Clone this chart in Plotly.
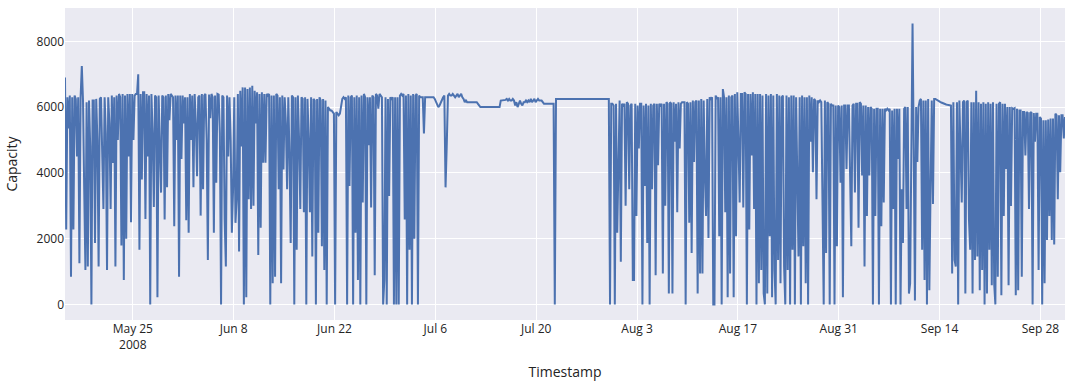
import pandas as pd
import plotly.graph_objects as go

# Readings every 4 hours, starting 2008-05-15 14:00 (one row of six readings per day)
start_time = "2008-05-15 14:00"
step = "4h"

may_vals = [
    6900, 2280, 6300, 5350, 6350, 840,
    6300, 2280, 6350, 6250, 4500, 6300,
    1250, 6300, 7250, 6200, 3500, 1050,
    6150, 1150, 6200, 4800, 0, 6200,
    6200, 1870, 6250, 5000, 1150, 6250,
    6300, 4000, 2900, 6300, 5200, 1050,
    6300, 5500, 2900, 6350, 4300, 6300,
    1150, 6350, 5000, 6400, 6300, 1790,
    6400, 740, 6350, 2000, 6400, 4500,
    6400, 2500, 6400, 5000, 6350, 6400,
    6400, 7000, 1660, 6400, 3800, 6450,
    6450, 2600, 6400, 4500, 6350, 0,
    6400, 5200, 2960, 6350, 6300, 220,
    6350, 4800, 3400, 6350, 6300, 2580,
    6350, 3560, 6400, 5600, 6400, 6350,
    6300, 2380, 6350, 5000, 6350, 840,
    6350, 4420, 6350, 5500, 6300, 2560,
]
jun_vals = [
    6300, 2180, 6400, 5000, 6350, 3560,
    6400, 5500, 3900, 6300, 6350, 2700,
    6400, 3500, 6350, 6400, 5000, 1350,
    6380, 5660, 6400, 6300, 2180, 6350,
    3700, 6400, 6380, 5200, 0, 6350,
    6300, 2580, 1150, 6350, 4500, 6300,
    5000, 2180, 3500, 6300, 2480, 3200,
    6400, 1610, 6500, 4800, 6600, 0,
    6600, 220, 6550, 3200, 6600, 2900,
    6650, 3000, 6500, 5500, 6450, 1500,
    6400, 2330, 6450, 4310, 6400, 4310,
    6400, 6350, 6400, 0, 6350, 640,
    6350, 840, 6400, 6350, 3500, 6300,
    640, 6350, 4100, 6300, 5500, 3500,
    6300, 4530, 1870, 6350, 6300, 0,
    6300, 1660, 6350, 5000, 2900, 6300,
    6250, 2800, 6300, 0, 6250, 5000,
    2800, 6300, 1460, 6250, 6200, 0,
    6250, 2180, 6300, 6200, 1770, 6250,
    1050, 6200, 0, 6000, 5950, 5900,
    5900, 5850, 5800, 0, 5850, 5800,
    5750, 5800, 6100, 6250, 6300, 6250,
    6300, 0, 6350, 3600, 6300, 6350,
    0, 6300, 2180, 6350, 740, 6300,
    0, 6350, 3100, 6400, 6300, 0,
    6300, 4840, 6300, 2950, 6350, 6300,
    890, 6400, 6350, 5950, 6400, 6350,
    6300, 0, 740, 6300, 0, 6250,
    3300, 6300, 6250, 6300, 0, 6300,
    0, 6300, 0, 6350, 6400, 6350,
]
jul_vals = [
    6400, 2580, 6350, 0, 6400, 1660,
    6350, 0, 6400, 2000, 6350, 6400,
    0, 6350, 6300, 6300, 6300, 5200,
    6300, 6300, 6300, 6300, 6300, 6300,
    6300, 6300, 6250, 6150, 6050, 6000,
    6050, 6150, 6250, 6300, 6350, 3560,
    4840, 6350, 6400, 6350, 6350, 6400,
    6350, 6300, 6350, 6400, 6300, 6350,
    6400, 6300, 6250, 6150, 6200, 6150,
    6150, 6150, 6150, 6150, 6150, 6150,
    6150, 6150, 6100, 6050, 6000, 6000,
    6000, 6000, 6000, 6000, 6000, 6000,
    6000, 6000, 6000, 6000, 6000, 6000,
    6000, 6000, 6000, 6200, 6200, 6200,
    6200, 6220, 6250, 6200, 6250, 6200,
    6200, 6250, 6200, 6050, 6150, 6000,
    6100, 6200, 6100, 6050, 6150, 6150,
    6200, 6150, 6200, 6150, 6250, 6150,
    6200, 6250, 6150, 6200, 6250, 6200,
    6200, 6200, 6150, 6100, 6100, 6100,
    6100, 6100, 6100, 6100, 6100, 6100,
    0, 6250, 6250, 6250, 6250, 6250,
    6250, 6250, 6250, 6250, 6250, 6250,
    6250, 6250, 6250, 6250, 6250, 6250,
    6250, 6250, 6250, 6250, 6250, 6250,
    6250, 6250, 6250, 6250, 6250, 6250,
    6250, 6250, 6250, 6250, 6250, 6250,
    6250, 6250, 6250, 6250, 6250, 6250,
    6250, 6250, 6250, 6250, 0, 6100,
    6100, 6050, 0, 6100, 2180, 4700,
    6200, 1300, 6100, 6050, 6100, 3000,
]
aug_vals = [
    6150, 6100, 3500, 6050, 6100, 740,
    740, 6100, 2690, 6050, 4740, 6100,
    6100, 0, 6050, 3600, 6100, 1870,
    6050, 0, 6100, 3500, 6050, 6100,
    890, 6100, 4230, 6100, 6050, 6100,
    940, 6100, 3000, 6150, 6100, 330,
    6150, 6100, 330, 6150, 4950, 6100,
    2800, 6150, 4740, 6100, 6150, 6150,
    6150, 0, 6150, 6100, 2480, 6150,
    1560, 6200, 4330, 6150, 6200, 330,
    6200, 940, 6250, 940, 6200, 3940,
    2690, 6250, 2020, 6300, 6250, 6300,
    0, 0, 6350, 6250, 6300, 2070,
    6300, 0, 6550, 6300, 2800, 6300,
    220, 6350, 940, 6300, 6350, 220,
    6400, 2070, 6450, 4950, 3100, 6400,
    6400, 2950, 6450, 6400, 0, 6400,
    2280, 6400, 4530, 6450, 2900, 6400,
    0, 6400, 640, 6400, 1050, 6350,
    330, 0, 6400, 330, 6350, 2070,
    6400, 220, 6350, 1050, 0, 6400,
    1350, 6350, 640, 6300, 6350, 1150,
    0, 6350, 1050, 6300, 0, 6350,
    1660, 6350, 0, 6300, 3500, 1460,
    6300, 0, 6350, 1770, 6300, 640,
    6300, 0, 6350, 4950, 6300, 4020,
    6250, 6200, 3200, 6200, 6150, 6200,
    6150, 1770, 0, 6200, 1560, 6150,
    6100, 0, 6100, 6050, 6050, 0,
    6050, 1770, 6050, 6000, 3700, 6050,
    220, 6050, 6050, 4120, 6050, 6050,
]
sep_vals = [
    3400, 1770, 6050, 6100, 3400, 6100,
    6100, 2330, 6150, 6100, 3920, 6050,
    1150, 6050, 2690, 6000, 3920, 6000,
    5950, 0, 5950, 2690, 5950, 5950,
    0, 5950, 2380, 5950, 3100, 5950,
    5900, 5950, 5900, 5950, 0, 5900,
    2900, 5950, 0, 5950, 4420, 5950,
    0, 3500, 1870, 5950, 6000, 2900,
    6000, 330, 640, 6000, 8540, 4740,
    120, 6000, 4330, 6000, 6200, 6250,
    1660, 6200, 740, 6200, 0, 6250,
    430, 3500, 6200, 3050, 6250, 6250,
    6220, 6200, 6180, 6160, 6140, 6120,
    6100, 6090, 6080, 6070, 6060, 6050,
    6050, 940, 6150, 1350, 1150, 6150,
    0, 6200, 4480, 3100, 6150, 6200,
    330, 6150, 6200, 2580, 1660, 6150,
    330, 6150, 1350, 6500, 1460, 6150,
    430, 6100, 1050, 6150, 0, 6100,
    330, 6150, 1660, 6100, 580, 6150,
    640, 0, 6100, 840, 6100, 6150,
    280, 6100, 2690, 6100, 4120, 6000,
    580, 6000, 2990, 5970, 5950, 5970,
    280, 5950, 430, 5900, 5900, 840,
    5850, 5850, 4530, 5850, 5820, 2900,
    5820, 5850, 0, 5820, 4950, 5800,
    5800, 1050, 5700, 5650, 0, 5600,
    640, 5600, 1960, 5620, 2690, 5650,
    1960, 5650, 1820, 5800, 5750, 3200,
    5750, 4020, 5750, 5750, 5050, 5700,
]

capacity = may_vals + jun_vals + jul_vals + aug_vals + sep_vals
timestamps = pd.date_range(start=start_time, periods=len(capacity), freq=step)

fig = go.Figure(
    go.Scatter(x=timestamps, y=capacity, mode="lines", name="Capacity")
)
fig.update_layout(
    template="seaborn",
    width=1070,
    height=381,
    margin=dict(l=65, r=5, t=8, b=61),
    showlegend=False,
    xaxis=dict(title=dict(text="Timestamp"), dtick=14 * 86400000, tick0="2000-01-02"),
    yaxis=dict(title=dict(text="Capacity")),
)
fig.write_html(
    "out.html",
    config={"displayModeBar": False},
    post_script="document.body.style.margin='0px';document.body.style.overflow='hidden';",
)
